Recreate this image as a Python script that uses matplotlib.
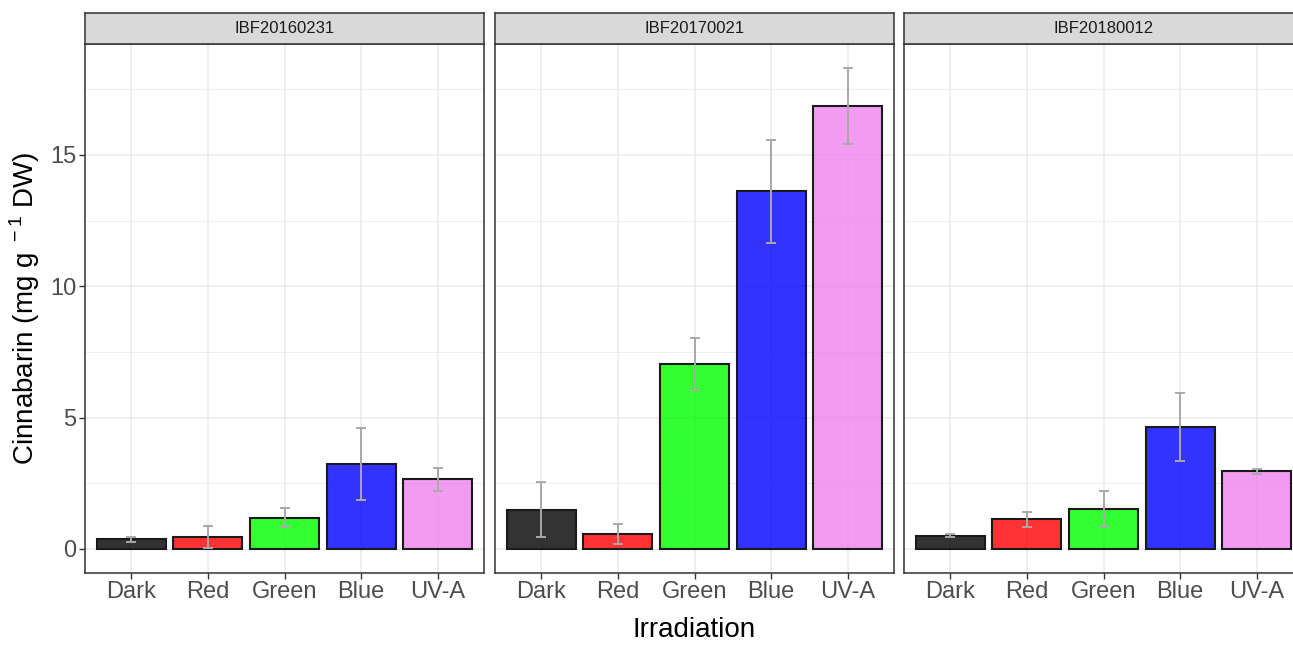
import matplotlib
matplotlib.use("Agg")
import matplotlib.pyplot as plt
from matplotlib.ticker import MultipleLocator
import numpy as np

plt.rcParams['font.family'] = ['Liberation Sans', 'DejaVu Sans']
plt.rcParams['mathtext.fontset'] = 'custom'
plt.rcParams['mathtext.rm'] = 'Liberation Sans'

strains = ['IBF20160231', 'IBF20170021', 'IBF20180012']
light = ['Dark', 'Red', 'Green', 'Blue', 'UV-A']
bar_colors = ['black', 'red', 'lime', 'blue', 'violet']

# mean and sd per strain
means = {
    'IBF20160231': [0.36, 0.46, 1.19, 3.23, 2.65],
    'IBF20170021': [1.50, 0.57, 7.05, 13.61, 16.86],
    'IBF20180012': [0.51, 1.13, 1.53, 4.64, 2.95],
}
sds = {
    'IBF20160231': [0.11, 0.41, 0.36, 1.37, 0.45],
    'IBF20170021': [1.05, 0.37, 1.00, 1.96, 1.45],
    'IBF20180012': [0.05, 0.29, 0.69, 1.29, 0.11],
}

W, H = 1293, 647
fig = plt.figure(figsize=(W / 100, H / 100), dpi=100)

lefts = [85, 495, 904]
pw = 399
top_px, bot_px = 44, 573
strip_h = 31

x = np.arange(1, len(light) + 1)
ymax = max(max(np.array(means[s]) + np.array(sds[s])) for s in strains)
ylo, yhi = -0.05 * ymax, 1.05 * ymax

for i, s in enumerate(strains):
    l = lefts[i]
    ax = fig.add_axes([l / W, 1 - bot_px / H, pw / W, (bot_px - top_px) / H])
    ax.set_axisbelow(True)
    ax.yaxis.set_major_locator(MultipleLocator(5))
    ax.yaxis.set_minor_locator(MultipleLocator(2.5))
    ax.grid(which='major', color='#EBEBEB', lw=1.1)
    ax.grid(which='minor', axis='y', color='#EBEBEB', lw=0.6)
    ax.bar(x, means[s], width=0.9, color=bar_colors, alpha=0.8,
           edgecolor='none', zorder=2)
    ax.bar(x, means[s], width=0.9, color='none', edgecolor='#1a1a1a',
           lw=1.5, zorder=3)
    ax.errorbar(x, means[s], yerr=sds[s], fmt='none', ecolor='#A9A9A9',
                elinewidth=1.4, capsize=3.5, capthick=1.4, zorder=4)
    ax.set_xlim(0.4, 5.6)
    ax.set_ylim(ylo, yhi)
    ax.set_xticks(x)
    ax.set_xticklabels(light)
    ax.tick_params(axis='both', which='major', length=4, color='#333333',
                   width=1, labelsize=17, labelcolor='#4D4D4D', pad=2)
    ax.tick_params(axis='y', which='minor', length=0)
    for sp in ax.spines.values():
        sp.set_color('#333333')
        sp.set_linewidth(1.1)
    if i == 0:
        ax.set_ylabel('Cinnabarin (mg g$^{\\mathregular{\\ -1}}$ DW)',
                      fontsize=20, labelpad=6)
    else:
        ax.tick_params(axis='y', which='both', left=False, labelleft=False)
    if i == 1:
        ax.set_xlabel('Irradiation', fontsize=20, labelpad=10)

    # facet strip
    sax = fig.add_axes([l / W, 1 - top_px / H, pw / W, strip_h / H])
    sax.set_facecolor('#D9D9D9')
    sax.set_xticks([])
    sax.set_yticks([])
    for sp in sax.spines.values():
        sp.set_color('#333333')
        sp.set_linewidth(1.1)
    sax.text(0.5, 0.5, s, ha='center', va='center', fontsize=12,
             color='#1A1A1A', transform=sax.transAxes)

fig.savefig('out.png', dpi=100)
